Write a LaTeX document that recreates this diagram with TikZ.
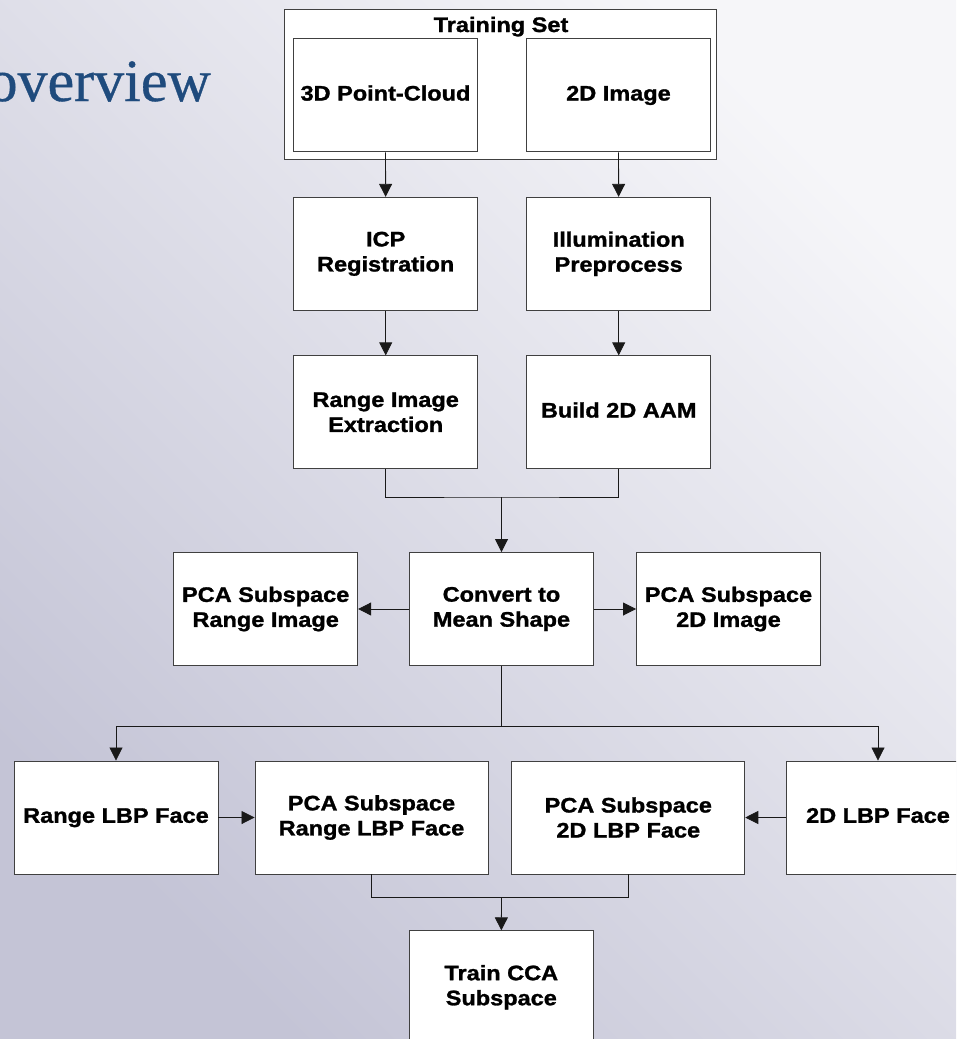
\documentclass[tikz,border=0pt]{standalone}
\usepackage{fontspec}
\newfontfamily\boxfont[FakeStretch=1.12, BoldFeatures={FakeBold=1.3}]{Liberation Sans}
\newfontfamily\titlefont[FakeBold=0.6]{Liberation Serif}
\usetikzlibrary{arrows.meta}
\definecolor{bglight}{RGB}{246,246,249}
\definecolor{bgmid}{RGB}{226,226,235}
\definecolor{bgdark}{RGB}{196,196,214}
\definecolor{titleblue}{RGB}{31,75,125}
\begin{document}
\begin{tikzpicture}[
    x=1pt,
    y=-1pt,
    box/.style={
        draw=black!75,
        line width=0.9pt,
        fill=white,
        minimum width=184pt,
        minimum height=113pt,
        align=center,
        inner sep=2pt,
        font=\boxfont\bfseries\fontsize{21}{25}\selectfont
    },
    single/.style={
        box,
        text height=15pt,
        text depth=4.5pt
    },
    widebox/.style={
        box,
        minimum width=233pt
    },
    group/.style={
        draw=black!75,
        line width=0.9pt,
        fill=white,
        minimum width=432pt,
        minimum height=150pt
    },
    link/.style={
        draw=black!90,
        line width=0.8pt
    },
    arrow/.style={
        link,
        -{Triangle[length=13pt,width=13pt]}
    }
]

\useasboundingbox (0,0) rectangle (956,1039);
\clip (0,0) rectangle (956,1039);
\shade[top color=bglight, middle color=bgmid, bottom color=bgdark, shading angle=-45]
    (0,0) rectangle (956,1039);

% =====================
% Titulo
% =====================
\node[font=\titlefont\fontsize{60}{60}\selectfont, text=titleblue, anchor=base east, inner sep=0pt]
    (title) at (211,101) {overview};

% =====================
% Training set
% =====================
\node[group] (ts) at (500.75,84.25) {};
\node[anchor=base, inner sep=0pt, font=\boxfont\bfseries\fontsize{21}{25}\selectfont]
    (tstitle) at (501,32) {Training Set};
\node[single] (pc3d)  at (385.5,95.3) {3D Point-Cloud};
\node[single] (img2d) at (618.5,95.3) {2D Image};

% =====================
% Preprocesado
% =====================
\node[box] (icp)      at (385.7,253.8) {ICP\\Registration};
\node[box] (illum)    at (618.7,253.8) {Illumination\\Preprocess};
\node[box] (rangeimg) at (385.7,412.3) {Range Image\\Extraction};
\node[single] (aam)   at (618.7,412.3) {Build 2D AAM};

% =====================
% Forma media
% =====================
\node[box] (convert)  at (501.5,609) {Convert to\\Mean Shape};
\node[box] (pcarange) at (265.7,609) {PCA Subspace\\Range Image};
\node[box] (pca2d)    at (728.5,609) {PCA Subspace\\2D Image};

% =====================
% LBP
% =====================
\node[single, minimum width=204pt] (rangelbp) at (116,817.5) {Range LBP Face};
\node[widebox] (pcarangelbp) at (371.5,817.5) {PCA Subspace\\Range LBP Face};
\node[widebox] (pca2dlbp)    at (628.3,817.5) {PCA Subspace\\2D LBP Face};
\node[single] (lbp2d) at (878,817.5) {2D LBP Face};

% =====================
% CCA
% =====================
\node[box] (cca) at (501.3,987.3) {Train CCA\\Subspace};

% =====================
% Conexiones
% =====================
\coordinate (j1) at (501.5,497);
\coordinate (j2) at (501.5,726);
\coordinate (j3) at (501.5,897);

\draw[arrow] (pc3d) -- (icp);
\draw[arrow] (img2d) -- (illum);
\draw[arrow] (icp) -- (rangeimg);
\draw[arrow] (illum) -- (aam);

\draw[link] (rangeimg.south) |- (j1) -| (aam.south);
\draw[arrow] (j1) -- (convert.north);

\draw[arrow] (convert) -- (pcarange);
\draw[arrow] (convert) -- (pca2d);

\draw[link] (convert.south) -- (j2);
\draw[arrow] (j2) -| (rangelbp.north);
\draw[arrow] (j2) -| (lbp2d.north);

\draw[arrow] (rangelbp) -- (pcarangelbp);
\draw[arrow] (lbp2d) -- (pca2dlbp);

\draw[link] (pcarangelbp.south) |- (j3) -| (pca2dlbp.south);
\draw[arrow] (j3) -- (cca.north);

\end{tikzpicture}
\end{document}
